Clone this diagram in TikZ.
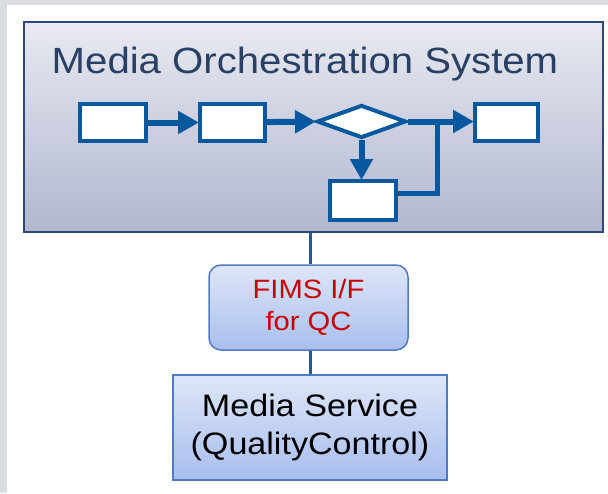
\documentclass[tikz,border=0pt]{standalone}
\usepackage{fontspec}
\setmainfont{Liberation Sans}
\newfontfamily\widesans[FakeStretch=1.1]{Liberation Sans}
\usetikzlibrary{shapes.geometric,arrows.meta}
\definecolor{flowblue}{RGB}{8,88,160}
\definecolor{titleblue}{RGB}{40,64,100}
\definecolor{mainborder}{RGB}{44,72,125}
\definecolor{maintop}{RGB}{232,233,241}
\definecolor{mainbot}{RGB}{176,183,207}
\definecolor{boxtop}{RGB}{222,230,248}
\definecolor{boxbot}{RGB}{168,190,238}
\definecolor{boxborder}{RGB}{80,122,196}
\definecolor{linkblue}{RGB}{30,88,150}
\definecolor{qcred}{RGB}{200,0,0}
\definecolor{bggray}{RGB}{218,221,225}
\tikzset{
  flowbox/.style={draw=flowblue, line width=4pt, fill=white, rectangle, inner sep=0pt},
  flowline/.style={draw=flowblue, line width=6pt},
  flowarrow/.style={flowline, -{Triangle[length=21pt,width=22pt]}, shorten >=-1pt},
  lowbox/.style={draw=boxborder, line width=1.5pt, top color=boxtop, bottom color=boxbot, align=center, inner sep=0pt},
  link/.style={draw=linkblue, line width=3pt}
}
\begin{document}
\begin{tikzpicture}[x=1pt,y=-1pt]
\useasboundingbox (0,0) rectangle (608,493);
\fill[bggray] (0,0) rectangle (608,493);
\fill[white] (7,5) rectangle (608,493);
% main box
\node[draw=mainborder, line width=2pt, top color=maintop, bottom color=mainbot,
      minimum width=579pt, minimum height=210pt, inner sep=0pt] (main) at (313.5,127) {};
\node[anchor=base, text=titleblue, font=\widesans\fontsize{36.5}{40}\selectfont] (title) at (305,73) {Media Orchestration System};
% flow
\node[flowbox, minimum width=66pt, minimum height=37pt] (b1) at (113,122.5) {};
\node[flowbox, minimum width=65pt, minimum height=37pt] (b2) at (232.5,122.5) {};
\node[draw=flowblue, line width=4pt, fill=white, diamond, inner sep=0pt, minimum width=89pt, minimum height=33pt] (dec) at (361.5,121.5) {};
\node[flowbox, minimum width=63pt, minimum height=37pt] (b4) at (506.5,122.5) {};
\node[flowbox, minimum width=66pt, minimum height=39pt] (b5) at (363,200.5) {};
\coordinate (j) at (437,122.5);
\draw[flowarrow] (b1) -- (b2);
\draw[flowarrow] (b2) -- (dec.west);
\draw[flowarrow] (dec.east) -- (b4.west |- dec.east);
\draw[flowarrow] (dec.south) -- (b5.north -| dec.south);
\draw[flowline, line width=5pt] ([yshift=7.5pt]b5.east) -| (j);
% lower part
\node[lowbox, rounded corners=12pt, minimum width=199pt, minimum height=85pt, text=qcred,
      font=\widesans\fontsize{26.5}{33}\selectfont] (fims) at (308.5,307.5) {FIMS I/F\\[-1pt]for QC};
\node[lowbox, minimum width=274pt, minimum height=105pt, text=black,
      font=\widesans\fontsize{31}{38}\selectfont] (ms) at (310,427.5) {Media Service\\(QualityControl)};
\draw[link] ([xshift=2pt]fims.north |- main.south) -- ([xshift=2pt]fims.north);
\draw[link] ([xshift=2pt]fims.south) -- ([xshift=2pt]fims.south |- ms.north);
\end{tikzpicture}
\end{document}
